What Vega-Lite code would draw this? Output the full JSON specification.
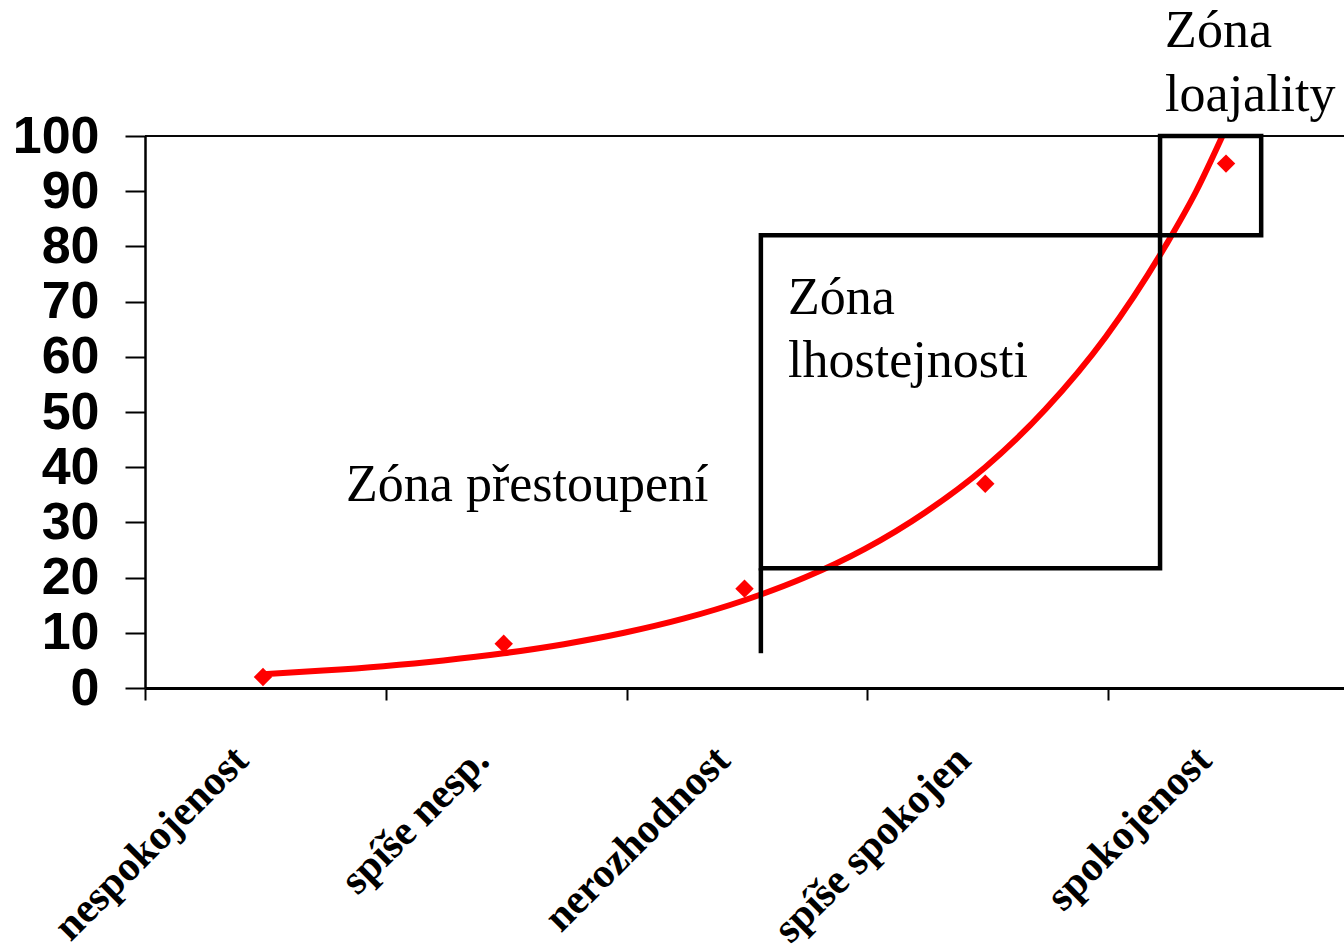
{
  "$schema": "https://vega.github.io/schema/vega-lite/v6.json",
  "autosize": "none",
  "width": 1199,
  "height": 552,
  "padding": {"left": 145, "top": 136, "right": 0, "bottom": 260},
  "background": "white",
  "config": {
    "view": {"stroke": null},
    "axis": {"domainColor": "black", "tickColor": "black", "labelColor": "black", "grid": false, "labelLimit": 0},
    "axisX": {"domainWidth": 3, "tickWidth": 2, "tickSize": 12},
    "axisY": {"domainWidth": 2.5, "tickWidth": 2, "tickSize": 20}
  },
  "datasets": {
    "points": [
      {"kategorie": "nespokojenost", "pos": 0.49, "hodnota": 2},
      {"kategorie": "spíše nesp.", "pos": 1.49, "hodnota": 8},
      {"kategorie": "nerozhodnost", "pos": 2.49, "hodnota": 18},
      {"kategorie": "spíše spokojen", "pos": 3.49, "hodnota": 37},
      {"kategorie": "spokojenost", "pos": 4.49, "hodnota": 95}
    ],
    "trend": [
      {"pos": 0.49, "hodnota": 2.5},
      {"pos": 0.74, "hodnota": 3.15},
      {"pos": 0.99, "hodnota": 3.96},
      {"pos": 1.24, "hodnota": 5.0},
      {"pos": 1.49, "hodnota": 6.3},
      {"pos": 1.74, "hodnota": 7.94},
      {"pos": 1.99, "hodnota": 10.0},
      {"pos": 2.24, "hodnota": 12.6},
      {"pos": 2.49, "hodnota": 15.9},
      {"pos": 2.74, "hodnota": 20.0},
      {"pos": 2.99, "hodnota": 25.2},
      {"pos": 3.24, "hodnota": 31.8},
      {"pos": 3.49, "hodnota": 40.0},
      {"pos": 3.74, "hodnota": 50.5},
      {"pos": 3.99, "hodnota": 63.6},
      {"pos": 4.24, "hodnota": 80.2},
      {"pos": 4.365, "hodnota": 89.9},
      {"pos": 4.475, "hodnota": 100}
    ],
    "zones": [
      {"zona": "lhostejnost", "x1": 2.558, "x2": 4.216, "y1": 21.7, "y2": 82},
      {"zona": "loajalita", "x1": 4.216, "x2": 4.636, "y1": 82, "y2": 100}
    ],
    "extension": [
      {"x": 2.558, "y1": 6.3, "y2": 21.7}
    ],
    "labels": [
      {"text": "Zóna přestoupení", "x": 0.835, "y": 33.9},
      {"text": "Zóna", "x": 2.671, "y": 67.75},
      {"text": "lhostejnosti", "x": 2.671, "y": 56.3},
      {"text": "Zóna", "x": 4.237, "y": 116.1},
      {"text": "loajality", "x": 4.237, "y": 104.5}
    ]
  },
  "layer": [
    {
      "data": {"name": "trend"},
      "mark": {"type": "line", "color": "#FF0000", "strokeWidth": 6, "interpolate": "monotone", "clip": true},
      "encoding": {
        "x": {
          "field": "pos", "type": "quantitative",
          "scale": {"domain": [0, 4.98], "nice": false, "zero": false},
          "axis": {
            "title": null,
            "values": [0, 1, 2, 3, 4],
            "labelExpr": "['nespokojenost','spíše nesp.','nerozhodnost','spíše spokojen','spokojenost'][datum.value]",
            "labelAngle": -45,
            "labelAlign": "right",
            "labelBaseline": "alphabetic",
            "labelOffset": 105,
            "labelPadding": 62,
            "labelFont": "Liberation Serif",
            "labelFontWeight": "bold",
            "labelFontSize": 42,
            "labelLimit": 0,
            "labelOverlap": false,
            "labelFlush": false,
            "labelBound": false
          }
        },
        "y": {
          "field": "hodnota", "type": "quantitative",
          "scale": {"domain": [0, 100], "nice": false},
          "axis": {
            "title": null,
            "values": [0, 10, 20, 30, 40, 50, 60, 70, 80, 90, 100],
            "labelFont": "Liberation Sans",
            "labelFontWeight": "bold",
            "labelFontSize": 52,
            "labelPadding": 26,
            "labelFlush": false,
            "labelOverlap": false,
            "labelBound": false
          }
        }
      }
    },
    {
      "data": {"name": "points"},
      "mark": {"type": "rule", "color": "black", "strokeWidth": 1},
      "encoding": {
        "y": {"datum": 100, "type": "quantitative"}
      }
    },
    {
      "data": {"name": "points"},
      "mark": {"type": "point", "shape": "diamond", "filled": true, "color": "#FF0000", "size": 340, "opacity": 1},
      "encoding": {
        "x": {"field": "pos", "type": "quantitative"},
        "y": {"field": "hodnota", "type": "quantitative"}
      }
    },
    {
      "data": {"name": "zones"},
      "mark": {"type": "rect", "filled": false, "fill": null, "stroke": "black", "strokeWidth": 4.5, "clip": false},
      "encoding": {
        "x": {"field": "x1", "type": "quantitative"},
        "x2": {"field": "x2"},
        "y": {"field": "y1", "type": "quantitative"},
        "y2": {"field": "y2"}
      }
    },
    {
      "data": {"name": "extension"},
      "mark": {"type": "rule", "color": "black", "strokeWidth": 4.5},
      "encoding": {
        "x": {"field": "x", "type": "quantitative"},
        "y": {"field": "y1", "type": "quantitative"},
        "y2": {"field": "y2"}
      }
    },
    {
      "data": {"name": "labels"},
      "mark": {"type": "text", "font": "Liberation Serif", "fontSize": 52, "align": "left", "baseline": "alphabetic", "color": "black", "clip": false},
      "encoding": {
        "x": {"field": "x", "type": "quantitative"},
        "y": {"field": "y", "type": "quantitative"},
        "text": {"field": "text"}
      }
    }
  ]
}
